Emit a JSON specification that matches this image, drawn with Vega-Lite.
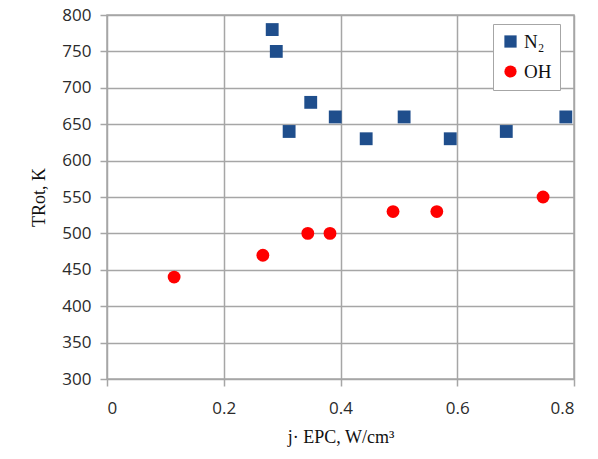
{
  "$schema": "https://vega.github.io/schema/vega-lite/v6.json",
  "width": 467,
  "height": 364,
  "autosize": {"type": "none"},
  "padding": {"left": 107, "top": 15, "right": 24, "bottom": 80},
  "background": "white",
  "config": {
    "view": {"stroke": "#a6a6a6", "strokeWidth": 1.5},
    "axis": {
      "labelFont": "Open Sans",
      "labelFontSize": 17,
      "labelColor": "#2b2b2b",
      "titleFont": "Liberation Serif",
      "titleFontSize": 18,
      "titleFontWeight": "normal",
      "titleColor": "#111111",
      "gridColor": "#a6a6a6",
      "gridWidth": 1.5,
      "gridOpacity": 1,
      "tickColor": "#a6a6a6",
      "tickWidth": 1.5,
      "tickSize": 7,
      "domain": false
    }
  },
  "data": {
    "values": [
      {"x": 0.283, "y": 780, "series": "N₂"},
      {"x": 0.290, "y": 750, "series": "N₂"},
      {"x": 0.312, "y": 640, "series": "N₂"},
      {"x": 0.349, "y": 680, "series": "N₂"},
      {"x": 0.391, "y": 660, "series": "N₂"},
      {"x": 0.444, "y": 630, "series": "N₂"},
      {"x": 0.509, "y": 660, "series": "N₂"},
      {"x": 0.588, "y": 630, "series": "N₂"},
      {"x": 0.684, "y": 640, "series": "N₂"},
      {"x": 0.786, "y": 660, "series": "N₂"},
      {"x": 0.115, "y": 440, "series": "OH"},
      {"x": 0.267, "y": 470, "series": "OH"},
      {"x": 0.344, "y": 500, "series": "OH"},
      {"x": 0.382, "y": 500, "series": "OH"},
      {"x": 0.490, "y": 530, "series": "OH"},
      {"x": 0.565, "y": 530, "series": "OH"},
      {"x": 0.747, "y": 550, "series": "OH"}
    ]
  },
  "mark": {"type": "point", "filled": true, "opacity": 1},
  "encoding": {
    "x": {
      "field": "x", "type": "quantitative",
      "scale": {"domain": [0, 0.8], "nice": false},
      "axis": {"values": [0, 0.2, 0.4, 0.6, 0.8], "format": "~g", "title": "j· EPC, W/cm³", "labelPadding": 14, "titlePadding": 12}
    },
    "y": {
      "field": "y", "type": "quantitative",
      "scale": {"domain": [300, 800], "nice": false, "zero": false},
      "axis": {"values": [300, 350, 400, 450, 500, 550, 600, 650, 700, 750, 800], "title": "TRot, K", "labelPadding": 9, "titlePadding": 13}
    },
    "color": {
      "field": "series", "type": "nominal",
      "scale": {"domain": ["N₂", "OH"], "range": ["#1f4e8c", "#ff0000"]},
      "legend": {
        "title": null, "orient": "none", "legendX": 386, "legendY": 9,
        "fillColor": "white", "strokeColor": "#a6a6a6", "padding": 8,
        "labelFont": "Liberation Serif", "labelFontSize": 19, "labelColor": "#111111",
        "symbolSize": 150, "rowPadding": 10, "labelOffset": 4
      }
    },
    "shape": {
      "field": "series", "type": "nominal",
      "scale": {"domain": ["N₂", "OH"], "range": ["square", "circle"]}
    },
    "size": {"value": 165}
  }
}
